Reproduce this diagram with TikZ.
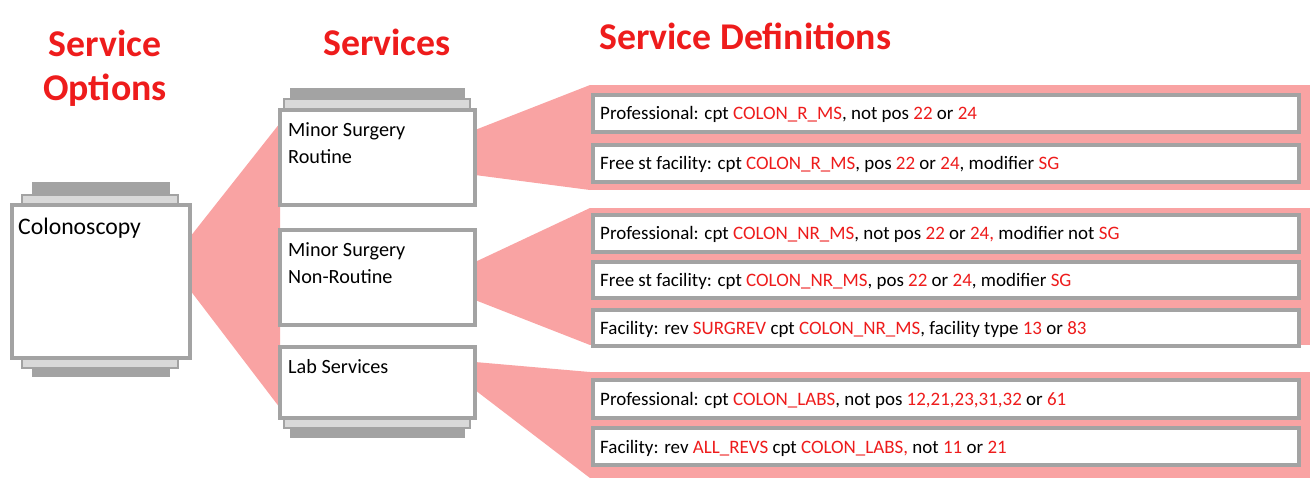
\documentclass[tikz,border=0pt]{standalone}
\usepackage{fontspec}
\setmainfont{Carlito}
\definecolor{fanpink}{HTML}{F9A3A3}
\definecolor{hired}{HTML}{EE1C1C}
\definecolor{boxgray}{HTML}{A3A3A3}
\definecolor{bargray}{HTML}{D9D9D9}
\newcommand{\rd}[1]{\textcolor{hired}{#1}}
\tikzset{
  pbox/.style={draw=boxgray, line width=1.8pt, fill=white},
  dbar/.style={fill=boxgray},
  lbar/.style={fill=bargray, draw=boxgray, line width=1pt},
  fan/.style={fill=fanpink},
  head/.style={text=hired, font=\bfseries\fontsize{21.5}{25}\selectfont, align=center},
  deftext/.style={anchor=west, font=\fontsize{10.8}{12}\selectfont},
}
\begin{document}
\begin{tikzpicture}[x=0.02cm, y=-0.02cm]
\useasboundingbox (0,0) rectangle (1310,481);

% headings
\node[head] (hopt) at (105,68) {Service\\Options};
\node[head] (hsrv) at (387,42) {Services};
\node[head, anchor=west] (hdef) at (593,36) {Service Definitions};

% fans
\fill[fan] (190,237) -- (280,123) -- (280,408) -- (190,290) -- cycle;
\fill[fan] (475,130) -- (590,85) -- (590,190) -- (475,175) -- cycle;
\fill[fan] (475,262) -- (590,208) -- (590,345) -- (475,300) -- cycle;
\fill[fan] (475,362) -- (590,372) -- (590,478) -- (475,390) -- cycle;

% definition backgrounds
\fill[fan] (590,85) rectangle (1310,190);
\fill[fan] (590,208) rectangle (1310,345);
\fill[fan] (590,372) rectangle (1310,478);

% colonoscopy
\fill[dbar] (32,182) rectangle (170,196);
\draw[lbar] (22,195) rectangle (178,206);
\draw[lbar] (22,357) rectangle (178,368);
\fill[dbar] (32,367) rectangle (170,377);
\draw[pbox] (12,205) rectangle (190,358);
\node[anchor=north west, font=\fontsize{13.5}{16}\selectfont] (colon) at (12,212) {Colonoscopy};

% services
\fill[dbar] (290,88) rectangle (465,100);
\draw[lbar] (284,99) rectangle (470,111);
\draw[pbox] (280,110) rectangle (475,205);
\draw[pbox] (280,230) rectangle (475,325);
\draw[lbar] (284,417) rectangle (470,428);
\fill[dbar] (290,427) rectangle (465,438);
\draw[pbox] (280,347) rectangle (475,418);
\node[anchor=north west, align=left, font=\fontsize{11.5}{15.5}\selectfont] (rout) at (282,116) {Minor Surgery\\Routine};
\node[anchor=north west, align=left, font=\fontsize{11.5}{15.5}\selectfont] (nrout) at (282,236) {Minor Surgery\\Non-Routine};
\node[anchor=north west, font=\fontsize{11.5}{15.5}\selectfont] (lab) at (282,353) {Lab Services};

% definitions
\foreach \t/\b in {95/132, 145/182, 215/252, 262/298, 310/346, 380/418, 428/465}
  \draw[pbox] (593,\t) rectangle (1299,\b);
\node[deftext] (d1) at (594,114) {Professional: cpt \rd{COLON\_R\_MS}, not pos \rd{22} or \rd{24}};
\node[deftext] (d2) at (594,164) {Free st facility: cpt \rd{COLON\_R\_MS}, pos \rd{22} or \rd{24}, modifier \rd{SG}};
\node[deftext] (d3) at (594,234) {Professional: cpt \rd{COLON\_NR\_MS}, not pos \rd{22} or \rd{24,} modifier not \rd{SG}};
\node[deftext] (d4) at (594,281) {Free st facility: cpt \rd{COLON\_NR\_MS}, pos \rd{22} or \rd{24}, modifier \rd{SG}};
\node[deftext] (d5) at (594,329) {Facility: rev \rd{SURGREV} cpt \rd{COLON\_NR\_MS}, facility type \rd{13} or \rd{83}};
\node[deftext] (d6) at (594,400) {Professional: cpt \rd{COLON\_LABS}, not pos \rd{12,21,23,31,32} or \rd{61}};
\node[deftext] (d7) at (594,448) {Facility: rev \rd{ALL\_REVS} cpt \rd{COLON\_LABS,} not \rd{11} or \rd{21}};
\end{tikzpicture}
\end{document}
